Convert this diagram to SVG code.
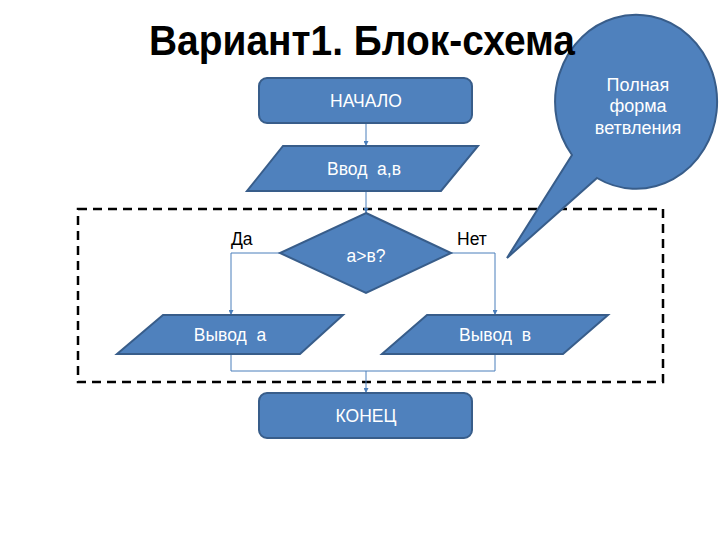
<svg xmlns="http://www.w3.org/2000/svg" width="720" height="540" viewBox="0 0 720 540">
<style>
.shape{fill:#4F81BD;stroke:#385D8A;stroke-width:2}
.lbl{font-family:"Liberation Sans",Arial,sans-serif;font-size:17.5px;fill:#FFFFFF;text-anchor:middle}
.call{font-family:"Liberation Sans",Arial,sans-serif;font-size:18px;fill:#FFFFFF;text-anchor:middle}
.side{font-family:"Liberation Sans",Arial,sans-serif;font-size:17.5px;fill:#000000}
.conn{fill:none;stroke:#4A7EBB;stroke-width:1}
</style>
<defs>
<marker id="arr" viewBox="0 0 10 10" refX="10" refY="5" markerWidth="5" markerHeight="5" orient="auto" markerUnits="userSpaceOnUse">
<path d="M0,0 L10,5 L0,10 z" fill="#4A7EBB"/>
</marker>
</defs>
<rect width="720" height="540" fill="#FFFFFF"/>
<rect id="frame" x="78" y="209" width="585" height="173" fill="none" stroke="#000000" stroke-width="2.5" stroke-dasharray="9,6"/>
<g id="connectors">
<path class="conn" d="M366,123 V146" marker-end="url(#arr)"/>
<path class="conn" d="M366,191 V213" marker-end="url(#arr)"/>
<path class="conn" d="M280,253 H231 V315" marker-end="url(#arr)"/>
<path class="conn" d="M451,253 H495 V315" marker-end="url(#arr)"/>
<path class="conn" d="M231,354 V371 H495 V354"/>
<path class="conn" d="M366,371 V393" marker-end="url(#arr)"/>
</g>
<g id="start">
<rect class="shape" x="259" y="78" width="213" height="45" rx="8"/>
<text class="lbl" x="366" y="107">НАЧАЛО</text>
</g>
<g id="input">
<polygon class="shape" points="283,146 478,146 441,191 247,191"/>
<text class="lbl" x="364" y="175" xml:space="preserve">Ввод  а,в</text>
</g>
<g id="decision">
<polygon class="shape" points="366,213 451,253 366,293 280,253"/>
<text class="lbl" x="366" y="262">а&gt;в?</text>
</g>
<g id="labels">
<text class="side" x="231" y="245">Да</text>
<text class="side" x="457" y="245">Нет</text>
</g>
<g id="outA">
<polygon class="shape" points="163,315 343,315 300,354 117,354"/>
<text class="lbl" x="230" y="341" xml:space="preserve">Вывод  а</text>
</g>
<g id="outB">
<polygon class="shape" points="427,315 608,315 563,354 382,354"/>
<text class="lbl" x="495" y="341" xml:space="preserve">Вывод  в</text>
</g>
<g id="end">
<rect class="shape" x="259" y="393" width="213" height="45" rx="8"/>
<text class="lbl" x="366" y="422">КОНЕЦ</text>
</g>
<g id="callout">
<path class="shape" d="M572,155 A81,87 0 1 1 597,178 L507,258 Z"/>
<text class="call" x="638" y="91">Полная</text>
<text class="call" x="638" y="112">форма</text>
<text class="call" x="638" y="134">ветвления</text>
</g>
<text x="149" y="55" font-family="'Liberation Sans',Arial,sans-serif" font-size="43" font-weight="bold" fill="#000000" textLength="426" lengthAdjust="spacingAndGlyphs">Вариант1. Блок-схема</text>
</svg>
